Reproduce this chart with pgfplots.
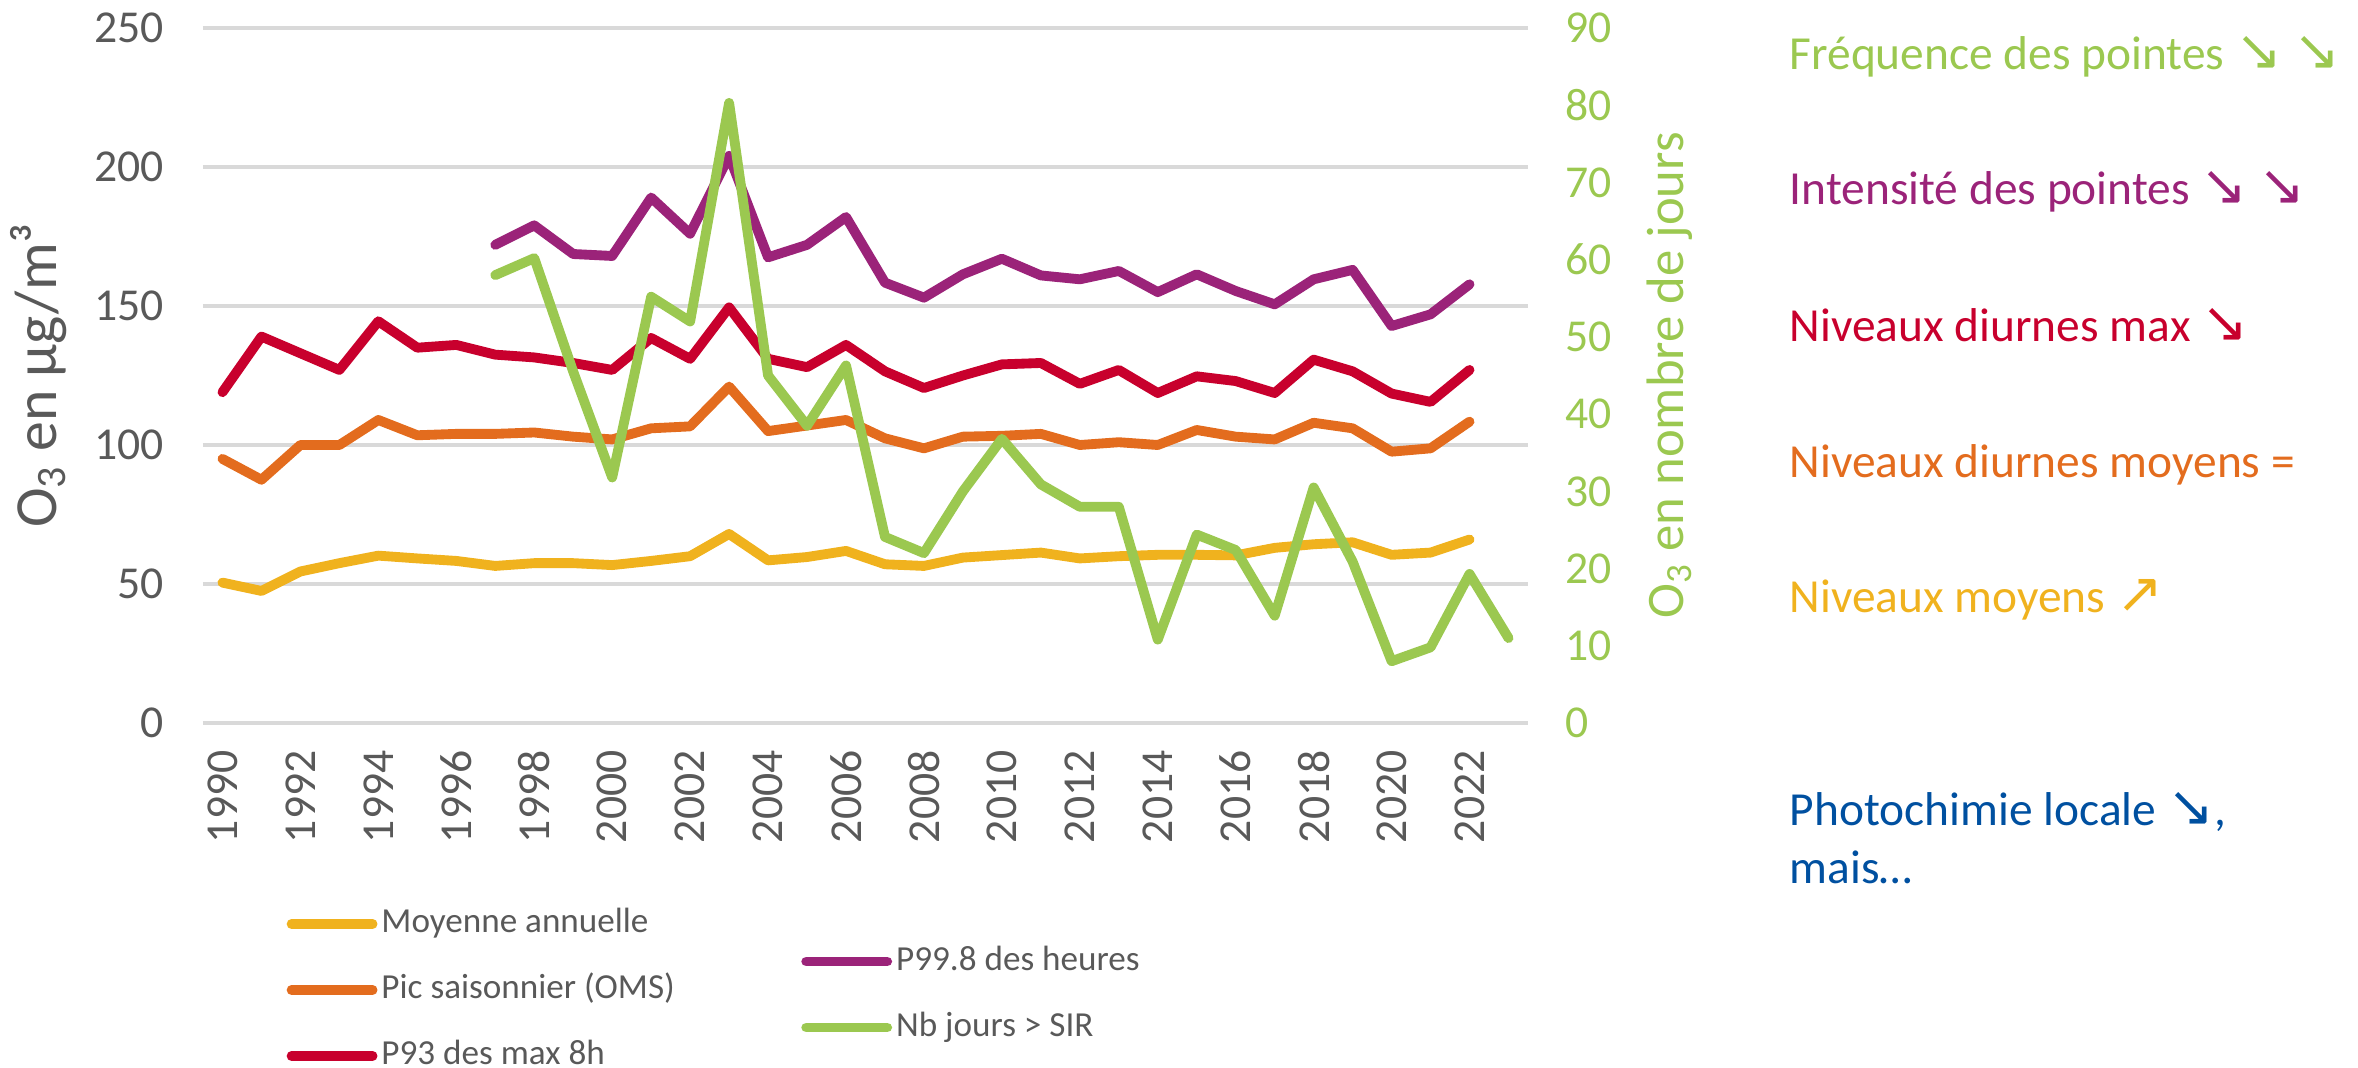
\documentclass[border=0pt]{standalone}
\usepackage{fontspec}
\setmainfont{Carlito}
\newfontfamily\sym{DejaVu Sans}
\usepackage{pgfplots}
\pgfplotsset{compat=1.18}
\usepackage{pgfplotstable}

\definecolor{cYel}{HTML}{F0B21E}
\definecolor{cOra}{HTML}{E36C1E}
\definecolor{cRed}{HTML}{C8002D}
\definecolor{cPur}{HTML}{9B2379}
\definecolor{cGrn}{HTML}{9BC850}
\definecolor{cBlu}{HTML}{0050A0}
\definecolor{cTxt}{HTML}{595959}
\definecolor{cGrid}{HTML}{D9D9D9}

% moyenne annuelle, pic saisonnier, P93 des max 8h (µg/m3)
\pgfplotstableread{
year moy pic p93
1990 50.5 95 119
1991 47.5 87.5 139
1992 54.5 100 133
1993 57.5 100 127
1994 60.2 109 144.5
1995 59.2 103.5 135
1996 58.3 104 136
1997 56.5 104 132.5
1998 57.5 104.5 131.5
1999 57.5 103 129.5
2000 56.8 102 127
2001 58.3 106 138.5
2002 60 106.7 131
2003 68 121 149.5
2004 58.5 105 131
2005 59.7 107 128
2006 61.9 109 136
2007 57.1 102.4 126.5
2008 56.5 98.8 120.5
2009 59.5 103 125
2010 60.4 103.3 129
2011 61.3 104 129.5
2012 59.2 100 122
2013 60 101 127
2014 60.5 100 118.7
2015 60.5 105.4 124.7
2016 60.3 103 123
2017 63 102 118.7
2018 64.3 108 130.7
2019 65 106 126.5
2020 60.5 97.6 118.5
2021 61.3 98.8 115.5
2022 66 108.4 127
}\tabA

% P99.8 des heures (µg/m3)
\pgfplotstableread{
year p998
1997 172
1998 179
1999 168.7
2000 168
2001 189
2002 176
2003 204
2004 167.5
2005 172
2006 182
2007 158.4
2008 153
2009 161.4
2010 167
2011 161
2012 159.6
2013 162.6
2014 155
2015 161.4
2016 155.4
2017 150.6
2018 159.6
2019 163
2020 142.8
2021 147
2022 157.8
}\tabB

% Nb jours > SIR
\pgfplotstableread{
year nb
1997 58
1998 60.2
1999 45.5
2000 31.8
2001 55.2
2002 52
2003 80.3
2004 45
2005 38.5
2006 46.3
2007 24.1
2008 22
2009 30
2010 36.8
2011 30.9
2012 28
2013 28
2014 10.8
2015 24.4
2016 22.4
2017 13.9
2018 30.5
2019 20.9
2020 8
2021 9.8
2022 19.3
2023 11
}\tabC

\pgfplotsset{
  serie/.style={line width=2.8pt, line join=round, line cap=round, mark=none},
  every axis legend/.append style={draw=none, fill=none, inner sep=0pt,
    font=\fontsize{10}{12}\selectfont, text=cTxt, cells={anchor=west},
    row sep=3.1mm,
    nodes={inner xsep=0.4mm, inner ysep=0pt, text height=2.6mm, text depth=0.9mm}},
  legend image code/.code={\draw[#1, line cap=round] (0mm,0mm) -- (8.1mm,0mm);},
}
\newcommand{\arr}[1]{{\sym\fontsize{16}{16}\selectfont #1}}

\begin{document}
\begin{tikzpicture}
\begin{axis}[
  scale only axis, width=13.25cm, height=6.95cm,
  xmin=1989.5, xmax=2023.5, ymin=0, ymax=250,
  xtick={1990,1992,...,2022}, ytick={0,50,...,250},
  axis line style={draw=none}, major tick length=0pt,
  ymajorgrids, grid style={cGrid, line width=1.1pt},
  tick label style={font=\fontsize{13}{13}\selectfont, text=cTxt},
  /pgf/number format/assume math mode=true,
  /pgf/number format/1000 sep={},
  x tick label style={rotate=90, anchor=east},
  xticklabel shift=1.5mm, yticklabel shift=2.7mm,
  ylabel={O\textsubscript{3} en µg/m³},
  ylabel style={font=\fontsize{17}{17}\selectfont, text=cTxt,
    at={(axis description cs:-0.124,0.5)}, anchor=center},
  legend style={at={(axis description cs:0.0626,-0.263)}, anchor=north west},
]
\addplot[serie, cYel] table[x=year, y=moy] {\tabA};
\addlegendentry{Moyenne annuelle}
\addplot[serie, cOra] table[x=year, y=pic] {\tabA};
\addlegendentry{Pic saisonnier (OMS)}
\addplot[serie, cRed] table[x=year, y=p93] {\tabA};
\addlegendentry{P93 des max 8h}
\addplot[serie, cPur, forget plot] table[x=year, y=p998] {\tabB};
\end{axis}

\begin{axis}[
  scale only axis, width=13.25cm, height=6.95cm,
  xmin=1989.5, xmax=2023.5, ymin=0, ymax=90,
  axis y line*=right, axis x line=none,
  ytick={0,10,...,90},
  axis line style={draw=none}, major tick length=0pt,
  y tick label style={font=\fontsize{13}{13}\selectfont, text=cGrn},
  /pgf/number format/assume math mode=true,
  yticklabel shift=2.5mm,
  ylabel={O\textsubscript{3} en nombre de jours},
  ylabel style={font=\fontsize{15}{15}\selectfont, text=cGrn,
    at={(axis description cs:1.107,0.5)}, anchor=center},
  legend style={at={(axis description cs:0.451,-0.317)}, anchor=north west},
]
\addlegendimage{serie, cPur}
\addlegendentry{P99.8 des heures}
\addplot[serie, cGrn] table[x=year, y=nb] {\tabC};
\addlegendentry{Nb jours > SIR}
\end{axis}

\begin{scope}[every node/.style={anchor=base west, inner sep=0pt, font=\fontsize{13.5}{16}\selectfont}]
\node[text=cGrn] at (15.86cm,6.53cm) {Fréquence des pointes \arr{↘} \arr{↘}};
\node[text=cPur] at (15.86cm,5.18cm) {Intensité des pointes \arr{↘} \arr{↘}};
\node[text=cRed] at (15.86cm,3.81cm) {Niveaux diurnes max \arr{↘}};
\node[text=cOra] at (15.86cm,2.45cm) {Niveaux diurnes moyens =};
\node[text=cYel] at (15.86cm,1.10cm) {Niveaux moyens \arr{↗}};
\node[text=cBlu] at (15.86cm,-1.02cm) {Photochimie locale \arr{↘},};
\node[text=cBlu] at (15.86cm,-1.60cm) {mais…};
\end{scope}

\pgfresetboundingbox
\path (-2.03cm,-3.45cm) rectangle (21.55cm,7.23cm);
\end{tikzpicture}
\end{document}
